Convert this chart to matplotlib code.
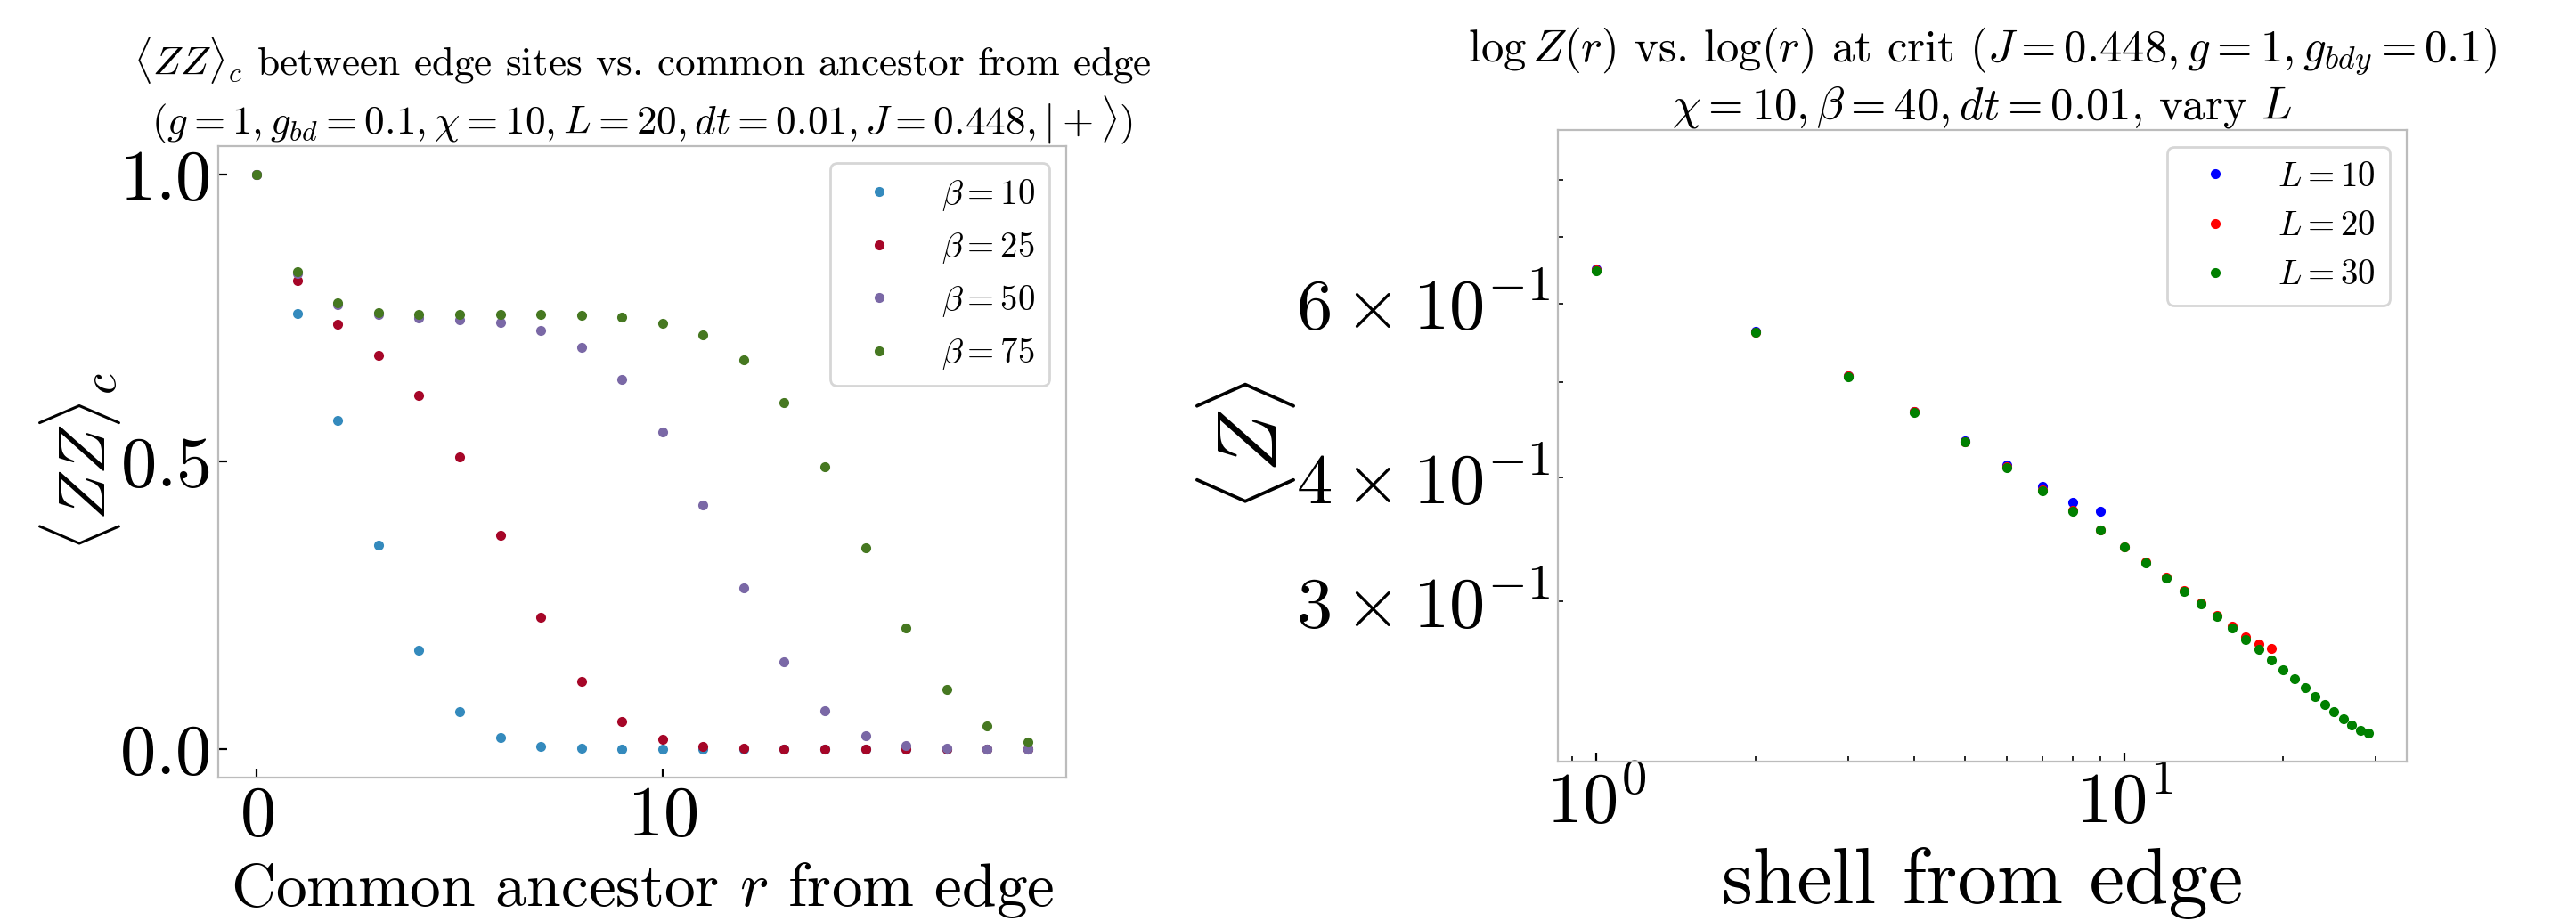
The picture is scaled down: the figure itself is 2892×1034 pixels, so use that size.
import numpy as np
import matplotlib
matplotlib.use('Agg')
import matplotlib.pyplot as plt

# Computer Modern look (no LaTeX available)
plt.rcParams['font.family'] = 'serif'
plt.rcParams['font.serif'] = ['cmr10']
plt.rcParams['mathtext.fontset'] = 'cm'
plt.rcParams['axes.formatter.use_mathtext'] = True
plt.rcParams['axes.edgecolor'] = '#bcbcbc'
plt.rcParams['xtick.direction'] = 'in'
plt.rcParams['ytick.direction'] = 'in'
plt.rcParams['legend.fancybox'] = True

#----- left panel: <ZZ>_c vs common ancestor -----
r = np.arange(20)
betas = [10, 25, 50, 75]
zz_b10 = [1.0, 0.759, 0.572, 0.355, 0.172, 0.0655, 0.020, 0.005, 0.001, 0.0,
          0.0, 0.0, 0.0, 0.0, 0.0, 0.0, 0.0, 0.0, 0.0, 0.0]
zz_b25 = [1.0, 0.816, 0.739, 0.685, 0.615, 0.509, 0.3715, 0.2295, 0.1174, 0.0484,
          0.0164, 0.005, 0.0007, 0.0, 0.0, 0.0, 0.0, 0.0, 0.0, 0.0]
zz_b50 = [1.0, 0.828, 0.774, 0.757, 0.750, 0.747, 0.743, 0.7295, 0.700, 0.644,
          0.552, 0.425, 0.280, 0.152, 0.066, 0.0228, 0.0064, 0.0014, 0.0, 0.0]
zz_b75 = [1.0, 0.831, 0.7765, 0.760, 0.757, 0.757, 0.757, 0.7566, 0.7559, 0.7516,
          0.742, 0.721, 0.678, 0.6036, 0.491, 0.351, 0.2114, 0.1032, 0.0406, 0.0128]
left_colors = ['#348ABD', '#A60628', '#7A68A6', '#467821']

#----- right panel: <Z> vs shell, vary L -----
Ls = [10, 20, 30]
z_L10 = [0.6494, 0.5627, 0.5071, 0.4670, 0.4362, 0.4119, 0.3920, 0.3775, 0.3701]
z_L20 = [0.6480, 0.5615, 0.5064, 0.4663, 0.4350, 0.4100, 0.3885, 0.3705, 0.3545,
         0.3408, 0.3286, 0.3175, 0.3077, 0.2988, 0.2903, 0.2833, 0.2766, 0.2717, 0.2690]
z_L30 = [0.6476, 0.5610, 0.5060, 0.4660, 0.4345, 0.4095, 0.3880, 0.3700, 0.3540,
         0.3404, 0.3282, 0.3171, 0.3073, 0.2983, 0.2898, 0.2819, 0.2747, 0.2683, 0.2619,
         0.2560, 0.2507, 0.2455, 0.2407, 0.2362, 0.2320, 0.2284, 0.2250, 0.2224, 0.2211]
right_colors = ['b', 'r', 'g']

fig = plt.figure(figsize=(14.46, 5.17), dpi=200)

ax1 = fig.add_axes([0.0847, 0.1557, 0.3292, 0.6857])
for zz, b, c in zip([zz_b10, zz_b25, zz_b50, zz_b75], betas, left_colors):
    ax1.plot(r, zz, '.', color=c, label=r'$\beta = %d$' % b)
ax1.set_xticks([0, 10])
ax1.set_yticks([0.0, 0.5, 1.0])
ax1.tick_params(labelsize=29)
ax1.set_xlabel(r'Common ancestor $r$ from edge', fontsize=25)
ax1.set_ylabel(r'$\langle ZZ\rangle_c$', fontsize=27, labelpad=-1.5)
ax1.set_title(r'$\langle ZZ\rangle_c$ between edge sites vs. common ancestor from edge' + '\n'
              r'$(g = 1, g_{bd} = 0.1, \chi = 10, L = 20, dt = 0.01, J = 0.448, |+\rangle)$',
              fontsize=16.3, pad=3)
ax1.legend(loc='upper right', fontsize=14)

ax2 = fig.add_axes([0.6048, 0.1731, 0.3295, 0.6857])
for z, L, c in zip([z_L10, z_L20, z_L30], Ls, right_colors):
    ax2.plot(np.arange(1, len(z) + 1), z, '.', color=c, label=r'$L = %d$' % L)
ax2.set_xscale('log')
ax2.set_yscale('log')
ax2.set_ylim(0.2068, 0.8977)
ax2.tick_params(which='both', labelsize=29)
ax2.set_xlabel('shell from edge', fontsize=32)
ax2.set_ylabel(r'$\langle Z\rangle$', fontsize=34, labelpad=-1)
ax2.set_title(r'$\log Z(r)$ vs. $\log(r)$ at crit $(J = 0.448, g = 1, g_{bdy} = 0.1)$' + '\n'
              r'$\chi = 10, \beta = 40, dt = 0.01$, vary $L$',
              fontsize=18.3, pad=3)
ax2.legend(loc='upper right', fontsize=14)

fig.savefig('out.png', dpi=200)
